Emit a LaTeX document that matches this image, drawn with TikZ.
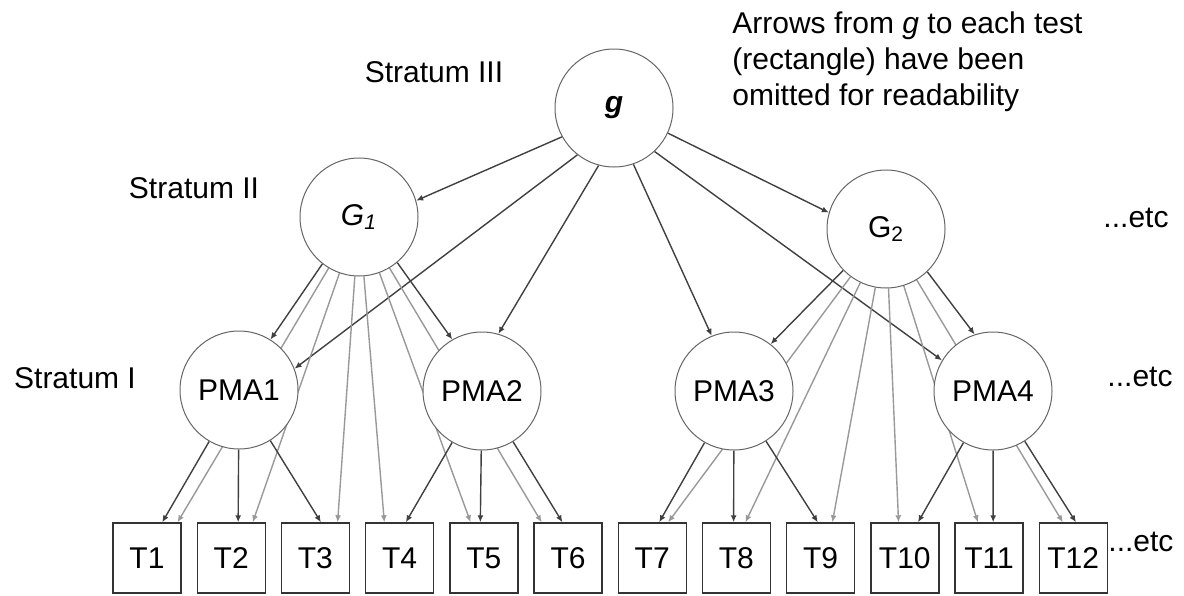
\documentclass[tikz,border=0pt]{standalone}
\usepackage{fontspec}
\setmainfont{Liberation Sans}
\usetikzlibrary{calc,arrows.meta,backgrounds}

\tikzset{
  factor/.style={circle, draw=black!60, line width=0.5pt, fill=white, minimum size=59pt, inner sep=0pt},
  testbox/.style={rectangle, draw=black!80, line width=0.7pt, fill=white, minimum width=34pt, minimum height=35pt, inner sep=0pt},
  blackarrow/.style={draw=black!75, line width=0.7pt, -{Latex[length=3.5pt,width=3pt]}},
  grayarrow/.style={draw=black!40, line width=0.7pt, -{Latex[length=3.5pt,width=3pt]}},
  plain/.style={inner sep=0pt}
}

\begin{document}
\begin{tikzpicture}[x=0.5pt, y=-0.5pt, font=\fontsize{15}{18}\selectfont]
\useasboundingbox (0,0) rectangle (1184,595);

% strata labels
\node[plain] (s3) at (434,72) {Stratum III};
\node[plain] (s2) at (194,188) {Stratum II};
\node[plain] (s1) at (75,378) {Stratum I};
\node[plain, anchor=north west, align=left] (note) at (732,11)
  {Arrows from \textit{g} to each test\\(rectangle) have been\\omitted for readability};

% factors
\node[factor] (g) at (614,108) {\textbf{\textit{g}}};
\node[factor] (G1) at (359,217) {\textit{G\textsubscript{1}}};
\node[factor] (G2) at (886,229) {G\textsubscript{2}};
\node[factor] (PMA1) at (239,390) {PMA1};
\node[factor] (PMA2) at (482,391) {PMA2};
\node[factor] (PMA3) at (734,391) {PMA3};
\node[factor] (PMA4) at (993,391) {PMA4};

% tests
\foreach \i in {1,...,12}
  \node[testbox] (T\i) at ({147+84.2*(\i-1)},558) {T\i};

\node[plain] (etc2) at (1136,218) {...etc};
\node[plain] (etc1) at (1140,377) {...etc};
\node[plain, anchor=west] (etc0) at (1108,542) {...etc};

\begin{scope}[on background layer]
% g to strata II and I
\draw[blackarrow] (g.209) -- (G1.16);
\draw[blackarrow] (g.335) -- (G2.164);
\draw[blackarrow] (g.232) -- (PMA1.21);
\draw[blackarrow] (g.255) -- (PMA2.74);
\draw[blackarrow] (g.289) -- (PMA3.112);
\draw[blackarrow] (g.313) -- (PMA4.149);
% G to PMA
\draw[blackarrow] (G1.232) -- (PMA1.58);
\draw[blackarrow] (G1.310) -- (PMA2.120);
\draw[blackarrow] (G2.224) -- (PMA3.52);
\draw[blackarrow] (G2.314) -- (PMA4.108);
% G to tests (grey)
\foreach \t/\f in {1/0.94,2/0.81,3/0.82,4/0.28,5/0.31,6/0.12}
  \draw[grayarrow] (G1) -- ($(T\t.north west)!\f!(T\t.north east)$);
\foreach \t/\f in {7/0.73,8/0.63,9/0.67,10/0.41,11/0.34,12/0.35}
  \draw[grayarrow] (G2) -- ($(T\t.north west)!\f!(T\t.north east)$);
% PMA to tests
\foreach \t/\f in {1/0.72,2/0.6,3/0.58}
  \draw[blackarrow] (PMA1) -- ($(T\t.north west)!\f!(T\t.north east)$);
\foreach \t/\f in {4/0.59,5/0.45,6/0.42}
  \draw[blackarrow] (PMA2) -- ($(T\t.north west)!\f!(T\t.north east)$);
\foreach \t/\f in {7/0.6,8/0.46,9/0.46}
  \draw[blackarrow] (PMA3) -- ($(T\t.north west)!\f!(T\t.north east)$);
\foreach \t/\f in {10/0.69,11/0.56,12/0.54}
  \draw[blackarrow] (PMA4) -- ($(T\t.north west)!\f!(T\t.north east)$);
\end{scope}
\end{tikzpicture}
\end{document}
